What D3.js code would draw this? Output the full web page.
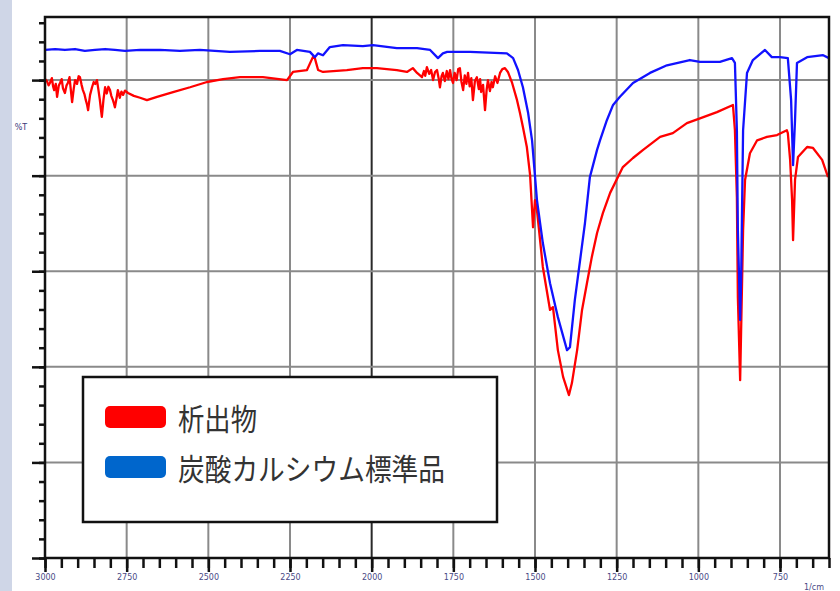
<!DOCTYPE html>
<html>
<head>
<meta charset="utf-8">
<script src="https://cdn.jsdelivr.net/npm/d3@7"></script>
<style>
  html, body { margin: 0; padding: 0; background: #ffffff; }
  svg { display: block; }
</style>
</head>
<body>
<svg id="chart" width="840" height="591"></svg>
<script>
// IR transmittance spectra: precipitate vs. calcium carbonate reference
// Each point is [wavenumber (1/cm), transmittance (%T)].

const seriesNames = ["析出物", "炭酸カルシウム標準品"];
const seriesColors = ["#ff0000", "#1212ff"];
const swatchColors = ["#ff0000", "#0066cc"];

const xMajorTicks = [3000, 2750, 2500, 2250, 2000, 1750, 1500, 1250, 1000, 750];
const yMajorTicks = [0, 20, 40, 60, 80, 100];
const xUnitLabel = "1/cm";
const yUnitLabel = "%T";

const precipitate = [
  [3000,100.2],[2994,99.8],[2989,98.9],[2985,99.4],[2979,100.4],[2975,98.6],[2972,97.9],
  [2967,99.2],[2963,96.5],[2958,98.8],[2954,99.4],[2949,100.2],[2945,98.3],[2939,97.3],
  [2934,98.9],[2930,99.4],[2925,100.6],[2921,98.0],[2917,95.4],[2912,98.2],[2908,100.0],
  [2902,99.2],[2897,100.8],[2893,100.6],[2888,99.0],[2884,97.9],[2879,97.0],[2875,95.8],
  [2871,94.8],[2868,93.7],[2865,95.4],[2862,96.9],[2856,98.5],[2851,99.6],[2846,99.2],
  [2841,100.0],[2837,98.2],[2832,95.8],[2829,94.0],[2826,92.3],[2821,95.9],[2816,98.5],
  [2811,97.2],[2806,98.6],[2801,97.9],[2797,96.7],[2792,95.8],[2789,95.1],[2786,94.3],
  [2781,96.2],[2777,97.9],[2771,96.3],[2766,97.6],[2761,96.9],[2755,97.8],[2746,97.3],
  [2728,96.7],[2709,96.3],[2688,95.8],[2657,96.5],[2608,97.5],[2556,98.5],[2504,99.6],
  [2455,100.2],[2403,100.6],[2333,100.6],[2259,100.0],[2241,101.7],[2198,102.1],[2180,104.8],
  [2174,104.6],[2164,102.1],[2149,101.7],[2076,102.1],[2027,102.5],[1984,102.5],[1923,102.1],
  [1892,101.7],[1874,102.5],[1861,101.5],[1846,100.6],[1840,101.9],[1836,100.9],[1831,102.7],
  [1824,101.3],[1818,102.1],[1812,100.0],[1806,101.7],[1800,102.1],[1795,100.4],[1791,98.5],
  [1786,100.8],[1782,101.5],[1776,99.8],[1770,101.9],[1765,100.2],[1760,102.1],[1756,100.4],
  [1751,99.4],[1746,101.5],[1740,100.0],[1735,102.3],[1730,102.5],[1725,99.6],[1720,97.9],
  [1715,101.0],[1710,99.2],[1705,101.5],[1700,98.7],[1695,100.4],[1690,95.8],[1684,99.8],
  [1678,100.6],[1672,98.1],[1668,100.2],[1665,97.5],[1659,99.0],[1653,93.7],[1648,98.0],
  [1644,100.0],[1638,97.7],[1633,99.6],[1629,98.5],[1622,100.8],[1615,99.4],[1607,101.5],
  [1600,102.3],[1592,102.5],[1583,101.7],[1570,99.4],[1555,95.8],[1546,93.1],[1537,90.2],
  [1525,86.0],[1515,80.1],[1506,69.2],[1500,74.9],[1494,72.8],[1476,60.9],[1454,51.9],
  [1445,52.5],[1430,43.5],[1414,37.9],[1396,34.1],[1387,36.6],[1371,43.5],[1356,51.9],
  [1341,57.5],[1326,63.0],[1310,68.0],[1292,72.2],[1270,76.4],[1231,81.8],[1200,83.7],
  [1169,85.4],[1117,88.1],[1078,88.9],[1035,91.0],[995,92.0],[943,93.3],[894,94.8],
  [888,89.5],[882,75.5],[879,54.6],[872,37.2],[863,68.6],[857,79.1],[842,84.7],
  [820,87.4],[790,88.1],[759,88.5],[729,89.5],[726,88.9],[719,83.3],[713,74.9],
  [710,66.5],[704,79.1],[695,83.9],[667,86.0],[649,85.8],[621,83.3],[603,79.7]
];

const calciumCarbonate = [
  [3000,106.3],[2969,106.5],[2939,106.3],[2908,106.5],[2878,106.1],[2847,106.3],[2816,106.5],
  [2786,106.3],[2755,106.1],[2709,106.3],[2648,106.3],[2587,106.1],[2526,106.3],[2434,105.9],
  [2342,106.1],[2281,106.1],[2250,105.4],[2229,106.3],[2189,105.9],[2174,104.8],[2164,105.6],
  [2149,105.2],[2128,106.9],[2088,107.3],[2027,107.1],[1996,107.3],[1923,106.7],[1861,106.7],
  [1821,106.3],[1797,104.6],[1782,105.6],[1769,105.9],[1699,105.9],[1586,105.6],[1567,104.6],
  [1552,102.1],[1537,98.5],[1521,93.1],[1509,87.4],[1494,74.9],[1476,65.9],[1454,57.5],
  [1430,50.4],[1402,43.5],[1393,44.1],[1378,54.0],[1362,62.3],[1347,70.1],[1332,79.7],
  [1310,85.4],[1301,87.4],[1280,91.6],[1261,94.8],[1240,96.5],[1200,99.4],[1148,101.5],
  [1096,103.1],[1026,104.2],[995,103.8],[934,103.8],[897,104.6],[888,103.6],[882,89.5],
  [879,68.6],[872,49.8],[869,58.2],[863,89.5],[851,101.5],[833,104.2],[796,106.3],
  [775,104.8],[750,104.8],[726,104.6],[716,95.8],[710,82.2],[704,91.6],[698,103.6],
  [667,104.8],[618,105.2],[600,104.6]
];

const svg = d3.select("#chart");
const plot = { left: 45, right: 829, top: 17, bottom: 558 };

const x = d3.scaleLinear().domain([3000, 600]).range([plot.left, plot.right]);
const y = d3.scaleLinear().domain([0, 113.2]).range([plot.bottom, plot.top]);

// side band
svg.append("rect").attr("x", 0).attr("y", 0).attr("width", 12).attr("height", 591)
  .attr("fill", "#cfd6e7");

// plot background
svg.append("rect").attr("x", plot.left).attr("y", plot.top)
  .attr("width", plot.right - plot.left).attr("height", plot.bottom - plot.top)
  .attr("fill", "#ffffff");

// grid
const grid = svg.append("g");
grid.selectAll("line.v").data(xMajorTicks.filter(d => d !== 3000)).join("line")
  .attr("x1", d => x(d)).attr("x2", d => x(d))
  .attr("y1", plot.top).attr("y2", plot.bottom)
  .attr("stroke", d => d === 2000 ? "#2a2a2a" : "#8a8a8a")
  .attr("stroke-width", 2);
grid.selectAll("line.h").data(yMajorTicks.filter(d => d !== 0)).join("line")
  .attr("x1", plot.left).attr("x2", plot.right)
  .attr("y1", d => y(d)).attr("y2", d => y(d))
  .attr("stroke", "#8a8a8a").attr("stroke-width", 2);

// spectra
svg.append("clipPath").attr("id", "plotClip").append("rect")
  .attr("x", plot.left).attr("y", plot.top)
  .attr("width", plot.right - plot.left).attr("height", plot.bottom - plot.top);

const line = d3.line().x(d => x(d[0])).y(d => y(d[1]));
const curves = svg.append("g").attr("clip-path", "url(#plotClip)");
[precipitate, calciumCarbonate].forEach((s, i) => {
  curves.append("path").datum(s).attr("d", line)
    .attr("fill", "none").attr("stroke", seriesColors[i])
    .attr("stroke-width", 2.3).attr("stroke-linejoin", "round");
});

// axes
const xMinor = d3.range(3000, 599, -50);
const yMinor = d3.range(0, 113, 4);

const xAxisMinor = svg.append("g").attr("transform", `translate(0,${plot.bottom})`)
  .call(d3.axisBottom(x).tickValues(xMinor).tickSize(10).tickFormat(""));
const xAxisMajor = svg.append("g").attr("transform", `translate(0,${plot.bottom})`)
  .call(d3.axisBottom(x).tickValues(xMajorTicks).tickSize(14).tickPadding(2)
    .tickFormat(d3.format("d")));
const yAxisMinor = svg.append("g").attr("transform", `translate(${plot.left},0)`)
  .call(d3.axisLeft(y).tickValues(yMinor).tickSize(6).tickFormat(""));
const yAxisMajor = svg.append("g").attr("transform", `translate(${plot.left},0)`)
  .call(d3.axisLeft(y).tickValues(yMajorTicks).tickSize(13).tickFormat(""));

[xAxisMinor, xAxisMajor, yAxisMinor, yAxisMajor].forEach(g => {
  g.select(".domain").remove();
  g.selectAll(".tick line").attr("stroke", "#111").attr("stroke-width", 2.5);
});
xAxisMajor.selectAll(".tick text")
  .attr("font-family", "DejaVu Sans, sans-serif").attr("font-size", 8)
  .attr("fill", "#4a4a86");

// frame
svg.append("rect").attr("x", plot.left).attr("y", plot.top)
  .attr("width", plot.right - plot.left).attr("height", plot.bottom - plot.top)
  .attr("fill", "none").attr("stroke", "#111").attr("stroke-width", 2.5);

svg.append("text").attr("x", 814).attr("y", 590).attr("text-anchor", "middle")
  .attr("font-family", "DejaVu Sans, sans-serif").attr("font-size", 8)
  .attr("fill", "#4a4a86").text(xUnitLabel);
svg.append("text").attr("x", 21).attr("y", 130).attr("text-anchor", "middle")
  .attr("font-family", "DejaVu Sans, sans-serif").attr("font-size", 8)
  .attr("fill", "#3a3a7a").text(yUnitLabel);

// legend
const legend = svg.append("g");
legend.append("rect").attr("x", 83).attr("y", 377).attr("width", 414).attr("height", 145)
  .attr("fill", "#ffffff").attr("stroke", "#111").attr("stroke-width", 2.5);
const legendRows = [417, 467];
const legendWidths = [79, 267];
seriesNames.forEach((name, i) => {
  legend.append("rect").attr("x", 105).attr("y", legendRows[i] - 11)
    .attr("width", 61).attr("height", 22).attr("rx", 5)
    .attr("fill", swatchColors[i]);
  legend.append("text").attr("x", 178).attr("y", legendRows[i])
    .attr("dominant-baseline", "central")
    .attr("font-family", "'Noto Sans CJK JP', sans-serif").attr("font-size", 30)
    .attr("fill", "#333333")
    .attr("textLength", legendWidths[i]).attr("lengthAdjust", "spacingAndGlyphs")
    .text(name);
});
</script>
</body>
</html>
